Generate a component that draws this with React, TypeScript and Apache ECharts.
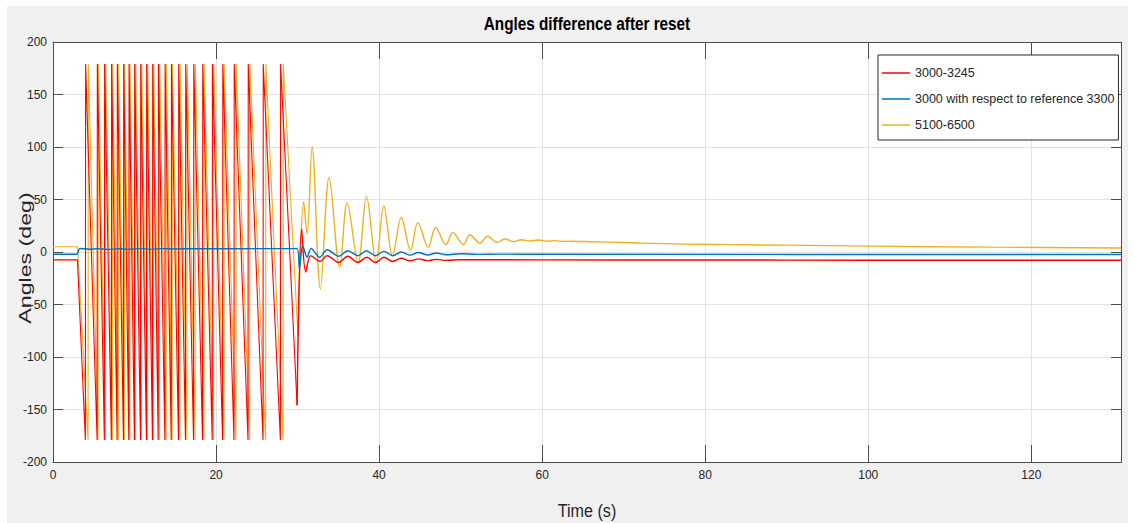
import React, { useEffect, useRef } from "react";
import * as echarts from "echarts";

// ---------- data ----------
const xTicks = [0, 20, 40, 60, 80, 100, 120];
const xMax = 131;
const wrapPeak = 179;

// 3000-3245 (red)
const redPre: [number, number][] = [[0, -7.5], [3.0, -7.5]];
const redWrapTimes = [3.97, 5.41, 6.3, 7.16, 7.86, 8.64, 9.3, 9.99, 10.73, 11.46, 12.2, 12.9, 13.72, 14.5, 15.39, 16.25, 17.24, 18.34, 19.53, 20.8, 22.2, 23.92, 25.76, 27.89];
const redPost: [number, number][] = [
  [29.94, -146], [30.5, 22], [31.0, -19], [31.62, -3.5], [32.75, -9], [33.62, -3.5], [35.05, -10], [36.15, -4],
  [37.38, -10], [38.5, -5], [39.56, -10], [40.58, -5], [41.68, -9], [42.7, -6], [43.8, -8.5], [44.8, -6.5],
  [46.0, -8.2], [47.0, -7], [48.2, -8], [50.0, -7.3], [60, -7.5], [80, -7.6], [100, -7.8], [131, -7.8],
];

// 3000 with respect to reference 3300 (blue)
const bluePoints: [number, number][] = [
  [0, -2.2], [2.9, -2.2], [3.3, 3.4], [4.5, 2.6], [5.5, 3.2], [6.8, 2.4], [8.0, 3.1], [9.3, 2.5], [10.5, 3.2],
  [12.0, 2.7], [13.5, 3.2], [15.0, 2.9], [17.0, 3.2], [20, 3.1], [25, 3.2], [29.94, 3.2],
  [30.22, -16], [30.63, 6], [31.17, -5], [31.66, 3.5], [32.71, -5], [33.62, 2.2], [35.05, -4], [36.15, 1.2],
  [37.38, -3.5], [38.45, 1.2], [39.56, -3.5], [40.58, 0.6], [41.68, -3.5], [42.7, 0], [43.8, -3], [44.8, -0.5],
  [46.0, -2.8], [47.0, -1], [48.2, -2.6], [50, -1.6], [52, -2.3], [55, -2], [60, -2.2], [131, -2.4],
];

// 5100-6500 (yellow)
const yellowPre: [number, number][] = [[0, 5], [3.0, 5]];
const yellowWrapTimes = [4.3, 5.53, 6.43, 7.29, 8.02, 8.75, 9.42, 10.11, 10.85, 11.59, 12.32, 13.05, 13.88, 14.62, 15.56, 16.43, 17.43, 18.51, 19.69, 20.97, 22.44, 24.12, 26.08, 28.22];
const yellowPost: [number, number][] = [
  [30.05, -80], [30.75, 48], [31.17, 17], [31.78, 100], [32.8, -35], [33.87, 71], [35.17, -14.6], [36.08, 47],
  [37.43, -10], [38.45, 53], [39.64, -10], [40.58, 44], [41.65, -3.5], [42.72, 33], [43.86, 1.3], [44.75, 28],
  [46.03, 4.4], [46.93, 23.5], [48.19, 7], [49.05, 18.7], [50.33, 7], [51.14, 16.5], [52.37, 8.3], [53.28, 15],
  [54.5, 9.2], [55.4, 12.4], [56.55, 9.8], [57.46, 11.7], [58.6, 10.5], [59.55, 11.4], [60.6, 10.2], [61.55, 10.8],
  [62.6, 10], [63.67, 10.2], [66, 9.8], [70, 9], [77, 7.6], [90, 6.5], [100, 5.6], [115, 4.6], [131, 3.8],
];

const names = ["3000-3245", "3000 with respect to reference 3300", "5100-6500"];
const colors = ["#ff0000", "#0072bd", "#edb120"];

// sawtooth built from read wrap instants (value jumps -peak -> +peak)
function sawtooth(pre: [number, number][], wraps: number[], end: [number, number]) {
  const pts: [number, number][] = [...pre];
  wraps.forEach((t) => {
    pts.push([t, -wrapPeak]);
    pts.push([t + 0.03, wrapPeak]);
  });
  pts.push(end);
  return pts;
}

const FONT = "'Liberation Sans', Arial, Helvetica, sans-serif";
const AXC = "#4d4d4d";

export default function App() {
  const ref = useRef<HTMLDivElement>(null);
  useEffect(() => {
    if (!ref.current) return;
    const chart = echarts.init(ref.current, undefined, { renderer: "svg" });
    const redSaw = sawtooth(redPre, redWrapTimes, redPost[0]);
    const yellowSaw = sawtooth(yellowPre, yellowWrapTimes, yellowPost[0]);

    const gridLeft = 53, gridTop = 42, gridW = 1068, gridH = 420;

    chart.setOption({
      animation: false,
      backgroundColor: "#ffffff",
      graphic: [
        { type: "rect", z: -100, silent: true, shape: { x: 7, y: 6, width: 1121, height: 517 }, style: { fill: "#f0f0f0" } },
        {
          type: "text", x: gridLeft + gridW / 2, y: 24, scaleX: 0.85, z: 10,
          style: { text: "Angles difference after reset", fontSize: 18, fontWeight: "bold", fontFamily: FONT, fill: "#000", align: "center", verticalAlign: "middle" },
        },
        {
          type: "text", x: 25, y: 258, rotation: Math.PI / 2, scaleX: 1.45, z: 10,
          style: { text: "Angles (deg)", fontSize: 16, fontFamily: FONT, fill: "#262626", align: "center", verticalAlign: "middle" },
        },
        {
          type: "text", x: gridLeft + gridW / 2, y: 511, scaleX: 0.85, z: 10,
          style: { text: "Time (s)", fontSize: 19, fontFamily: FONT, fill: "#262626", align: "center", verticalAlign: "middle" },
        },
      ],
      grid: { left: gridLeft, top: gridTop, width: gridW, height: gridH, show: true, backgroundColor: "#ffffff", borderWidth: 0 },
      legend: {
        orient: "vertical", left: 878, top: 55,
        data: names,
        icon: "rect", itemWidth: 28, itemHeight: 1.5, itemGap: 10,
        padding: [10, 4, 7, 4],
        backgroundColor: "#ffffff", borderColor: "#262626", borderWidth: 1,
        textStyle: { fontSize: 12.5, fontFamily: FONT, color: "#262626", lineHeight: 16 },
      },
      xAxis: [
        {
          type: "value", min: 0, max: xMax, interval: 20, position: "bottom",
          axisLine: { show: true, onZero: false, lineStyle: { color: AXC, width: 1 } },
          axisTick: { show: true, inside: true, length: 17, lineStyle: { color: AXC } },
          axisLabel: { color: "#262626", fontSize: 12, fontFamily: FONT, margin: 7, showMaxLabel: false, formatter: (v: number) => (xTicks.includes(v) ? String(v) : "") },
          splitLine: { show: true, lineStyle: { color: "#e2e2e2", width: 1 } },
        },
        {
          type: "value", min: 0, max: xMax, interval: 20, position: "top",
          axisLine: { show: true, onZero: false, lineStyle: { color: AXC, width: 1 } },
          axisTick: { show: true, inside: true, length: 17, lineStyle: { color: AXC } },
          axisLabel: { show: false },
          splitLine: { show: false },
        },
      ],
      yAxis: [
        {
          type: "value", min: -200, max: 200, interval: 50, position: "left",
          axisLine: { show: true, onZero: false, lineStyle: { color: AXC, width: 1 } },
          axisTick: { show: true, inside: true, length: 10, lineStyle: { color: AXC } },
          axisLabel: { color: "#262626", fontSize: 12, fontFamily: FONT, margin: 6 },
          splitLine: { show: true, lineStyle: { color: "#e2e2e2", width: 1 } },
        },
        {
          type: "value", min: -200, max: 200, interval: 50, position: "right",
          axisLine: { show: true, onZero: false, lineStyle: { color: AXC, width: 1 } },
          axisTick: { show: true, inside: true, length: 10, lineStyle: { color: AXC } },
          axisLabel: { show: false },
          splitLine: { show: false },
        },
      ],
      series: [
        { name: names[2], type: "line", data: yellowSaw, showSymbol: false, symbol: "none", color: colors[2], lineStyle: { width: 1.1, color: colors[2] } },
        { name: names[0], type: "line", data: redSaw, showSymbol: false, symbol: "none", color: colors[0], lineStyle: { width: 1.1, color: colors[0] } },
        { name: names[2], type: "line", data: yellowPost, smooth: 0.35, showSymbol: false, symbol: "none", color: colors[2], lineStyle: { width: 1.4, color: colors[2] } },
        { name: names[0], type: "line", data: redPost, smooth: 0.35, showSymbol: false, symbol: "none", color: colors[0], lineStyle: { width: 1.4, color: colors[0] } },
        { name: names[1], type: "line", data: bluePoints, smooth: 0.3, showSymbol: false, symbol: "none", color: colors[1], lineStyle: { width: 1.4, color: colors[1] } },
      ],
    });
    return () => chart.dispose();
  }, []);
  return (
    <div style={{ position: "absolute", left: 0, top: 0, width: 1134, height: 523, background: "#fff" }}>
      <div ref={ref} style={{ width: 1134, height: 523 }} />
    </div>
  );
}
